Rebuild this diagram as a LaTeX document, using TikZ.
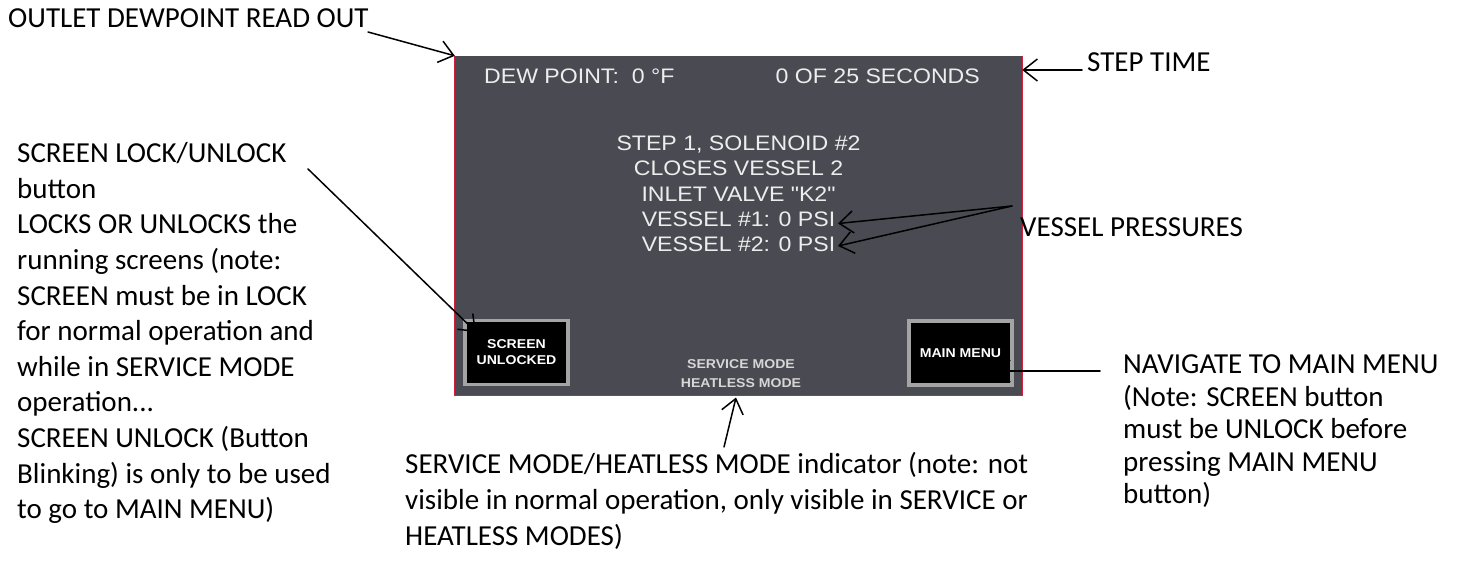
\documentclass[tikz,border=0pt]{standalone}
\usepackage{fontspec}
\setmainfont{Carlito}
\newfontfamily\panelfont[FakeStretch=1.1]{Liberation Sans}
\usetikzlibrary{arrows.meta}
\definecolor{panelbg}{HTML}{4A4A52}
\definecolor{paneltext}{HTML}{EDEDED}
\definecolor{modetext}{HTML}{D6D6D6}
\definecolor{paneledge}{HTML}{D0203C}
\definecolor{btnedge}{HTML}{A4A4A4}
% zero-width strut that fixes the top of a multi-line label above its first baseline
\newcommand\firstrow[1]{\rule{0pt}{#1pt}}
\begin{document}
\begin{tikzpicture}[x=1pt,y=-1pt,
  note/.style={inner sep=0pt, align=left, text=black,
    font=\fontsize{29}{35.6}\selectfont},
  screen/.style={fill=panelbg, inner sep=0pt, minimum width=567pt, minimum height=339pt},
  lcd/.style={inner sep=0pt, text=paneltext, font=\panelfont\fontsize{21}{25.3}\selectfont},
  btn/.style={fill=black, draw=btnedge, line width=3.5pt, inner sep=0pt,
    align=center, text=white, font=\panelfont\bfseries\fontsize{12.8}{16}\selectfont,
    minimum width=103pt, minimum height=64pt},
  arr/.style={draw=black, line width=1.5pt, line cap=round,
    -{Straight Barb[length=14pt,width=22pt,line width=1.5pt]}}
]
\useasboundingbox (0,0) rectangle (1462,561);

% --- controller panel ---
\node[screen] (scr) at (738.5,225.5) {};
\draw[paneledge, line width=1.2pt] (scr.north west) -- (scr.south west) -- (scr.south east) -- (scr.north east);

\node[lcd, anchor=base west] (dew) at (484,83.3) {DEW POINT:\ \ 0 °F};
\node[lcd, anchor=base east] (time) at (980,83.3) {0 OF 25 SECONDS};
\node[lcd, anchor=north, align=center] (status) at (738.5,130.5)
  {\firstrow{20}STEP 1, SOLENOID \#2\\ CLOSES VESSEL 2\\ INLET VALVE "K2"\\ VESSEL \#1: 0 PSI\\ VESSEL \#2: 0 PSI};

\node[btn] (unlock) at (516.5,352.5) {SCREEN\\UNLOCKED};
\node[btn] (menu) at (960.5,353) {MAIN MENU};
\node[inner sep=0pt, align=center, text=modetext,
  font=\panelfont\bfseries\fontsize{12.8}{19}\selectfont] (svc) at (741,373.5)
  {SERVICE MODE\\HEATLESS MODE};

% --- annotations ---
\node[note, anchor=base west] (outlet) at (8,28) {OUTLET DEWPOINT READ OUT};
\node[note, anchor=base west] (steptime) at (1087,72) {STEP TIME};
\node[note, anchor=base west] (vessels) at (1020,237) {VESSEL PRESSURES};
\node[note, anchor=north west] (locknote) at (17,138.5)
  {\firstrow{24}SCREEN LOCK/UNLOCK\\ button\\ LOCKS OR UNLOCKS the\\ running screens (note:\\
   SCREEN must be in LOCK\\ for normal operation and\\ while in SERVICE MODE\\ operation...\\
   SCREEN UNLOCK (Button\\ Blinking) is only to be used\\ to go to MAIN MENU)};
\node[note, anchor=north west, font=\fontsize{29}{32.5}\selectfont] (menunote) at (1123,349.3)
  {\firstrow{24}NAVIGATE TO MAIN MENU\\ (Note: SCREEN button\\ must be UNLOCK before\\ pressing MAIN MENU\\ button)};
\node[note, anchor=north west, font=\fontsize{29}{36}\selectfont] (modenote) at (405,449)
  {\firstrow{24}SERVICE MODE/HEATLESS MODE indicator (note: not\\ visible in normal operation, only visible in SERVICE or\\ HEATLESS MODES)};

% --- leader ends ---
\coordinate (outletEnd) at (368,32);
\coordinate (stepEnd) at (1082,70);
\coordinate (stepTip) at (scr.north east |- stepEnd);
\coordinate (vesselEnd) at (1012,206);
\coordinate (vessel1) at (838,223.5);
\coordinate (vessel2) at (838,246);
\coordinate (lockEnd) at (308,169);
\coordinate (lockTip) at (476,332);
\coordinate (modeEnd) at (724,447);
\coordinate (modeTip) at (736,397.5);
\coordinate (menuEnd) at (1100,371);
\coordinate (menuTip) at (995,371);

\draw[arr] (outletEnd) -- (scr.north west);
\draw[arr] (stepEnd) -- (stepTip);
\draw[arr] (vesselEnd) -- (vessel1);
\draw[arr] (vesselEnd) -- (vessel2);
\draw[arr] (lockEnd) -- (lockTip);
\draw[arr] (modeEnd) -- (modeTip);
\draw[arr] (menuEnd) -- (menuTip);
\end{tikzpicture}
\end{document}
